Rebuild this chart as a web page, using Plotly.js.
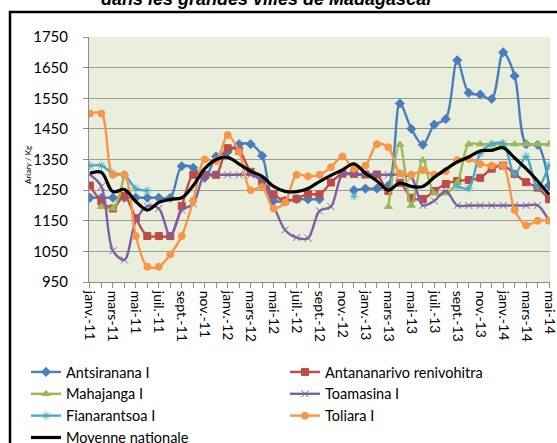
<!DOCTYPE html>
<html><head><meta charset="utf-8">
<script src="https://cdn.plot.ly/plotly-3.0.1.min.js"></script>
<style>html,body{margin:0;padding:0;background:#fff}#chart{width:557px;height:443px}</style>
</head><body><div id="chart"></div>
<script>
const months = ["janv.","févr.","mars","avr.","mai","juin","juil.","août","sept.","oct.","nov.","déc."];
const categories = [];
for (const yr of ["11","12","13","14"]) for (const m of months) categories.push(m + "-" + yr);
categories.length = 41; // janv.-11 .. mai-14
const tickLabels = categories.map((c, i) => (i % 2 === 0 ? c : ""));

const antsiranana = [1225,1225,1225,1225,1225,1225,1225,1225,1328,1323,1290,1360,1375,1400,1400,1362,1215,1215,1220,1220,1220,null,null,1250,1255,1255,1265,1533,1450,1398,1464,1482,1674,1568,1562,1548,1700,1623,1400,1398,1265];
const antananarivo = [1265,1213,1190,1231,1158,1100,1100,1100,1198,1300,1300,1300,1387,1378,1310,1278,1236,1215,1222,1238,1236,1275,1304,1303,1301,1301,1247,1274,1225,1221,1247,1270,1280,1283,1290,1320,1330,1303,1276,1258,1220];
const mahajanga = [null,1196,1190,1303,null,null,null,null,null,null,null,null,null,null,null,null,null,null,null,null,null,null,null,null,null,null,1196,1399,1200,1348,1240,1240,1275,1400,1400,1400,1400,1400,1400,1400,1400];
const toamasina = [1300,1262,1052,1022,1150,1198,1190,1100,1185,1205,1300,1300,1300,1300,1300,1280,1200,1120,1095,1093,1182,1196,1300,1300,1300,1300,1300,1300,1292,1200,1215,1247,1200,1200,1200,1200,1200,1200,1200,1200,1150];
const fianarantsoa = [1330,1330,1305,1300,1255,1248,null,null,null,null,null,null,null,null,null,null,null,null,null,null,null,null,null,1230,null,null,null,null,null,null,null,null,1262,1256,1370,1400,1403,1300,1360,1258,1332];
const toliara = [1500,1500,1300,1300,1100,1000,1000,1040,1100,1215,1350,1345,1430,1375,1250,1260,1190,1210,1300,1295,1300,1325,1360,1320,1330,1400,1390,1305,1300,1315,1300,1312,1348,1352,1335,1330,1330,1185,1135,1150,1150];
const moyenne = [1305,1308,1245,1252,1213,1185,1210,1220,1225,1265,1320,1350,1357,1335,1312,1295,1262,1246,1245,1255,1278,1298,1316,1336,1305,1280,1250,1273,1262,1262,1292,1318,1342,1358,1378,1380,1388,1355,1320,1280,1235];

const seriesNames = ["Antsiranana I","Antananarivo renivohitra","Mahajanga I","Toamasina I","Fianarantsoa I","Toliara I","Moyenne nationale"];
const yTicks = [950,1050,1150,1250,1350,1450,1550,1650,1750];

const FONT = "Lato, 'Liberation Sans', sans-serif";
function mk(name, y, color, symbol, size, legend, extra) {
  return Object.assign({
    type: "scatter", mode: "lines+markers", name: name, x: categories, y: y,
    connectgaps: false, legend: legend,
    line: {color: color, width: 2.4, shape: "spline", smoothing: 0.9},
    marker: {color: color, symbol: symbol, size: size, line: {color: color, width: 1}}
  }, extra || {});
}
const traces = [
  mk(seriesNames[0], antsiranana, "#4A7EBB", "diamond", 7, "legend"),
  mk(seriesNames[1], antananarivo, "#BE4B48", "square", 7, "legend2"),
  mk(seriesNames[2], mahajanga, "#98B954", "triangle-up", 7, "legend"),
  mk(seriesNames[3], toamasina, "#7D60A0", "x-thin-open", 7, "legend2"),
  mk(seriesNames[4], fianarantsoa, "#46AAC5", "asterisk-open", 7, "legend"),
  mk(seriesNames[5], toliara, "#F79646", "circle", 7, "legend2"),
  {type: "scatter", mode: "lines", name: seriesNames[6], x: categories, y: moyenne, legend: "legend",
   line: {color: "#000000", width: 3.2, shape: "spline", smoothing: 1}}
];

const L = 89, R = 550, T = 37, B = 282, W = 557, H = 443;
const px = x => (x - L) / (R - L);
const py = y => (B - y) / (B - T);

const layout = {
  width: W, height: H,
  margin: {l: L, r: W - R, t: T, b: H - B, pad: 0, autoexpand: false},
  paper_bgcolor: "#ffffff", plot_bgcolor: "#EAEFDD",
  font: {family: FONT, size: 15, color: "#000"},
  showlegend: true,
  xaxis: {
    type: "category", range: [-0.08, 40.08], tickmode: "array",
    tickvals: categories, ticktext: tickLabels, tickangle: 90,
    ticks: "outside", ticklen: 5, tickcolor: "#8C8C8C", tickwidth: 1,
    showgrid: false, showline: true, linecolor: "#8C8C8C", linewidth: 1,
    tickfont: {family: FONT, size: 14, color: "#000"}, zeroline: false
  },
  yaxis: {
    range: [950, 1750], tickmode: "array", tickvals: yTicks,
    ticks: "outside", ticklen: 5, tickcolor: "#8C8C8C",
    showgrid: true, gridcolor: "#9A9A9A", gridwidth: 1,
    showline: true, linecolor: "#8C8C8C", linewidth: 1,
    ticklabelstandoff: 12, zeroline: false,
    tickfont: {family: FONT, size: 15, color: "#000"}
  },
  legend: {x: px(26), y: py(356), xanchor: "left", yanchor: "top", orientation: "v",
           font: {family: FONT, size: 14.5, color: "#000"}, bgcolor: "rgba(0,0,0,0)", tracegroupgap: 0},
  legend2: {x: px(285), y: py(356), xanchor: "left", yanchor: "top", orientation: "v",
           font: {family: FONT, size: 14.5, color: "#000"}, bgcolor: "rgba(0,0,0,0)", tracegroupgap: 0},
  annotations: [
    {text: "<b><i>dans les grandes villes de Madagascar</i></b>", xref: "paper", yref: "paper",
     x: px(267), y: py(-1), xanchor: "center", yanchor: "middle", showarrow: false,
     font: {family: "'Liberation Sans', Arial, sans-serif", size: 18, color: "#000"}},
    {text: "Ariary / Kg", xref: "paper", yref: "paper", x: px(28), y: py(165),
     xanchor: "center", yanchor: "middle", textangle: -90, showarrow: false,
     font: {family: FONT, size: 8, color: "#000"}}
  ],
  shapes: [
    {type: "rect", xref: "paper", yref: "paper", x0: px(10), x1: px(600), y0: py(12), y1: py(520),
     line: {color: "#000", width: 2.5}, fillcolor: "rgba(0,0,0,0)", layer: "above"}
  ]
};
Plotly.newPlot("chart", traces, layout, {displayModeBar: false, staticPlot: true});
</script></body></html>
